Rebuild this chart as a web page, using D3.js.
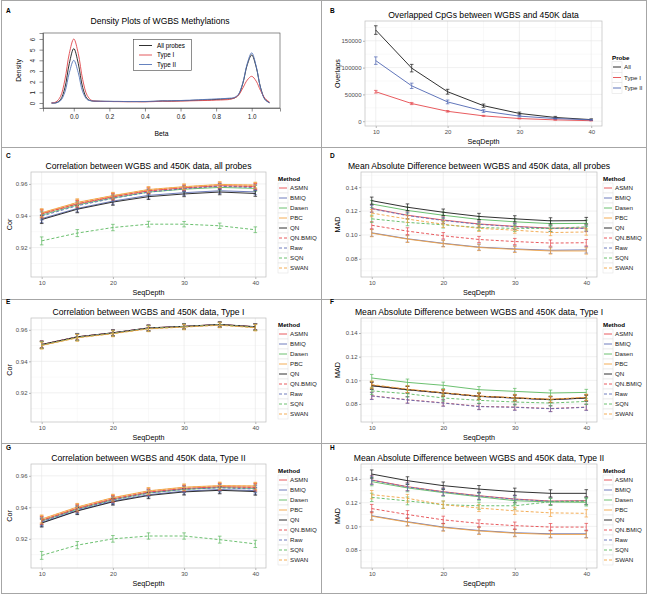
<!DOCTYPE html>
<html><head><meta charset="utf-8">
<script src="https://cdn.jsdelivr.net/npm/d3@7"></script>
<style>body{margin:0;background:#fff} svg{display:block}</style>
</head><body><svg id="fig" width="648" height="595"></svg>
<script>
// ---------------- DATA ----------------
// Panel A: density of WGBS methylation (beta)
const densityLabels = ["All probes", "Type I", "Type II"];
const betaGrid = [-0.125,-0.1,-0.075,-0.05,-0.025,0,0.025,0.05,0.075,0.1,
  0.125,0.15,0.175,0.2,0.225,0.25,0.275,0.3,0.325,0.35,
  0.375,0.4,0.425,0.45,0.475,0.5,0.525,0.55,0.575,0.6,
  0.625,0.65,0.675,0.7,0.725,0.75,0.775,0.8,0.825,0.85,
  0.875,0.9,0.925,0.95,0.975,1.0,1.025,1.05,1.075,1.1];
const densityAll = [0.0,0.02,0.3,1.42,3.72,5.1,3.72,1.45,0.4,0.2,
  0.17,0.16,0.15,0.15,0.14,0.14,0.14,0.13,0.13,0.13,
  0.13,0.13,0.14,0.15,0.17,0.19,0.18,0.19,0.2,0.21,
  0.22,0.23,0.25,0.26,0.28,0.29,0.31,0.33,0.35,0.37,
  0.40,0.45,0.74,1.83,3.58,4.5,3.38,1.43,0.34,0.03];
const densityType1 = [0.0,0.10,0.6,2.16,4.65,6.0,4.65,2.2,0.72,0.25,
  0.17,0.15,0.14,0.14,0.13,0.13,0.12,0.12,0.12,0.12,
  0.11,0.11,0.12,0.13,0.15,0.17,0.16,0.16,0.17,0.18,
  0.19,0.20,0.21,0.22,0.23,0.24,0.25,0.27,0.28,0.30,
  0.33,0.45,0.72,1.4,2.15,2.5,2.05,1.15,0.43,0.08];
const densityType2 = [0.0,0.01,0.2,1.02,2.85,4.0,2.85,1.05,0.32,0.2,
  0.17,0.16,0.16,0.15,0.15,0.15,0.14,0.14,0.14,0.14,
  0.14,0.14,0.15,0.16,0.18,0.2,0.2,0.21,0.22,0.23,
  0.25,0.26,0.28,0.3,0.32,0.34,0.36,0.38,0.4,0.42,
  0.45,0.5,0.8,1.88,3.7,4.7,3.46,1.39,0.30,0.02];
const betaTicks = [0, 0.2, 0.4, 0.6, 0.8, 1.0];
const densityTicks = [0, 1, 2, 3, 4, 5, 6];

// Shared x values (sequencing depth)
const depths = [10, 15, 20, 25, 30, 35, 40];
const depthTicks = [10, 20, 30, 40];
const depthMinor = [15, 25, 35];

// Panel B: overlapped CpGs
const probes = ["All", "Type I", "Type II"];
const overlapAll   = [170000, 99000, 55000, 29000, 14500, 7000, 3000];
const overlapType1 = [55000, 33000, 18500, 10000, 5000, 2500, 1000];
const overlapType2 = [113000, 66000, 36000, 19000, 9500, 5000, 2500];
const overlapErrAll   = [8000, 7000, 4500, 3000, 2500, 2000, 1500];
const overlapErrType1 = [2500, 2000, 1500, 1000, 800, 600, 400];
const overlapErrType2 = [7000, 5000, 3500, 2500, 1500, 1000, 800];
const overlapTicks = [0, 50000, 100000, 150000];

// Methods (order: ASMN, BMIQ, Dasen, PBC, QN, QN.BMIQ, Raw, SQN, SWAN)
const methods = ["ASMN","BMIQ","Dasen","PBC","QN","QN.BMIQ","Raw","SQN","SWAN"];

// Panel C: correlation, all probes
const corAll = [
  [0.9413,0.9476,0.9520,0.9558,0.9576,0.9589,0.9585],
  [0.9382,0.9446,0.9492,0.9528,0.9545,0.9557,0.9550],
  [0.9404,0.9468,0.9512,0.9549,0.9567,0.9578,0.9572],
  [0.9419,0.9484,0.9527,0.9565,0.9583,0.9597,0.9593],
  [0.9376,0.9441,0.9486,0.9520,0.9537,0.9549,0.9540],
  [0.9411,0.9474,0.9518,0.9556,0.9574,0.9587,0.9583],
  [0.9398,0.9463,0.9509,0.9548,0.9570,0.9585,0.9577],
  [0.9242,0.9291,0.9326,0.9347,0.9347,0.9337,0.9312],
  [0.9417,0.9482,0.9525,0.9563,0.9581,0.9595,0.9591]];
const corAllErr = [0.0025,0.0022,0.0020,0.0018,0.0017,0.0017,0.0018];

// Panel D: MAD, all probes
const madAll = [
  [0.1222,0.1165,0.1125,0.1092,0.1072,0.1057,0.1058],
  [0.1018,0.0968,0.0930,0.0898,0.0883,0.0872,0.0875],
  [0.1259,0.1205,0.1165,0.1130,0.1110,0.1095,0.1097],
  [0.1015,0.0965,0.0927,0.0895,0.0879,0.0866,0.0866],
  [0.1287,0.1232,0.1190,0.1155,0.1135,0.1118,0.1120],
  [0.1081,0.1032,0.0993,0.0962,0.0945,0.0932,0.0935],
  [0.1219,0.1162,0.1121,0.1089,0.1069,0.1054,0.1055],
  [0.1135,0.1105,0.1085,0.1062,0.1055,0.1055,0.1068],
  [0.1183,0.1133,0.1090,0.1055,0.1040,0.1020,0.1025]];
const madAllErr = [0.0030,0.0028,0.0027,0.0026,0.0026,0.0026,0.0027];

// Panel E: correlation, Type I
const corType1 = [
  [0.9506,0.9555,0.9581,0.9612,0.9622,0.9634,0.9619],
  [0.9505,0.9554,0.9580,0.9611,0.9621,0.9633,0.9618],
  [0.9504,0.9553,0.9579,0.9610,0.9620,0.9632,0.9617],
  [0.9502,0.9551,0.9577,0.9608,0.9619,0.9631,0.9615],
  [0.9507,0.9556,0.9581,0.9612,0.9622,0.9634,0.9620],
  [0.9506,0.9555,0.9580,0.9611,0.9621,0.9633,0.9619],
  [0.9505,0.9554,0.9580,0.9611,0.9621,0.9633,0.9618],
  [0.9503,0.9552,0.9578,0.9609,0.9620,0.9632,0.9616],
  [0.9500,0.9549,0.9575,0.9606,0.9617,0.9629,0.9613]];
const corType1Err = [0.0022,0.0021,0.0019,0.0018,0.0017,0.0016,0.0020];

// Panel F: MAD, Type I
const madType1 = [
  [0.0957,0.0922,0.0894,0.0866,0.0852,0.0838,0.0852],
  [0.0954,0.0920,0.0892,0.0864,0.0850,0.0836,0.0850],
  [0.1020,0.0983,0.0958,0.0921,0.0907,0.0893,0.0898],
  [0.0958,0.0923,0.0895,0.0867,0.0853,0.0840,0.0854],
  [0.0955,0.0921,0.0893,0.0865,0.0851,0.0837,0.0851],
  [0.0870,0.0836,0.0810,0.0780,0.0774,0.0762,0.0774],
  [0.0868,0.0834,0.0808,0.0778,0.0772,0.0760,0.0772],
  [0.0911,0.0887,0.0851,0.0831,0.0817,0.0808,0.0822],
  [0.0965,0.0925,0.0895,0.0866,0.0853,0.0840,0.0857]];
const madType1Err = [0.0030,0.0028,0.0027,0.0026,0.0025,0.0025,0.0026];

// Panel G: correlation, Type II
const corType2 = [
  [0.9318,0.9394,0.9454,0.9497,0.9520,0.9531,0.9528],
  [0.9303,0.9380,0.9439,0.9480,0.9503,0.9513,0.9506],
  [0.9312,0.9388,0.9448,0.9491,0.9514,0.9525,0.9520],
  [0.9326,0.9402,0.9462,0.9505,0.9528,0.9538,0.9536],
  [0.9300,0.9377,0.9435,0.9475,0.9498,0.9508,0.9500],
  [0.9316,0.9392,0.9452,0.9495,0.9518,0.9529,0.9526],
  [0.9308,0.9385,0.9445,0.9490,0.9514,0.9524,0.9516],
  [0.9095,0.9160,0.9200,0.9218,0.9218,0.9195,0.9168],
  [0.9324,0.9400,0.9460,0.9503,0.9526,0.9536,0.9534]];
const corType2Err = [0.0025,0.0023,0.0021,0.0020,0.0020,0.0022,0.0023];

// Panel H: MAD, Type II
const madType2 = [
  [0.1392,0.1335,0.1293,0.1259,0.1231,0.1214,0.1217],
  [0.1090,0.1039,0.0994,0.0965,0.0946,0.0937,0.0937],
  [0.1378,0.1325,0.1285,0.1250,0.1217,0.1206,0.1203],
  [0.1086,0.1035,0.0990,0.0961,0.0942,0.0932,0.0932],
  [0.1442,0.1386,0.1344,0.1315,0.1293,0.1279,0.1279],
  [0.1150,0.1100,0.1055,0.1025,0.1006,0.0994,0.0994],
  [0.1390,0.1333,0.1291,0.1257,0.1229,0.1212,0.1215],
  [0.1245,0.1215,0.1183,0.1174,0.1174,0.1208,0.1212],
  [0.1268,0.1237,0.1183,0.1155,0.1131,0.1114,0.1110]];
const madType2Err = [0.0035,0.0033,0.0031,0.0030,0.0030,0.0030,0.0031];

const corTicks = [0.92, 0.94, 0.96];
const corMinor = [0.91, 0.93, 0.95];
const madTicks = [0.08, 0.10, 0.12, 0.14];
const madMinor = [0.07, 0.09, 0.11, 0.13, 0.15];
const overlapMinor = [25000, 75000, 125000, 175000];

// ---------------- STYLES ----------------
const FONT = '"Liberation Sans", Arial, Helvetica, sans-serif';
const methodColors = ["#e5484d","#5f6db5","#5bb960","#f2a444","#1a1a1a","#e5484d","#5f6db5","#5bb960","#f2a444"];
const methodDash = [null,null,null,null,null,"3,2","3,2","3,2","3,2"];
const probeColors = ["#1a1a1a","#e5484d","#4f66b3"];
const densityColors = ["#1a1a1a","#e0474c","#5374b8"];

const svg = d3.select("#fig").attr("font-family", FONT);
svg.append("rect").attr("width",648).attr("height",595).attr("fill","#fff");

// ---------------- HELPERS ----------------
function styleAxis(sel, size) {
  sel.select(".domain").remove();
  sel.selectAll(".tick line").attr("stroke","#7f7f7f").attr("stroke-width",0.6);
  sel.selectAll(".tick text").attr("fill","#4d4d4d").attr("font-size", size || 6).attr("font-family", FONT);
}

function ggFrame(p) {
  const xs = d3.scaleLinear().domain([8.5, 41.5]).range([p.x0, p.x1]);
  const ys = d3.scaleLinear().domain(p.yDomain).range([p.y1, p.y0]);
  const g = svg.append("g");
  g.append("rect").attr("x",p.x0).attr("y",p.y0).attr("width",p.x1-p.x0).attr("height",p.y1-p.y0).attr("fill","#fff");
  p.yMinor.filter(v => v > p.yDomain[0] && v < p.yDomain[1]).forEach(v =>
    g.append("line").attr("x1",p.x0).attr("x2",p.x1).attr("y1",ys(v)).attr("y2",ys(v)).attr("stroke","#f3f3f3").attr("stroke-width",0.5));
  depthMinor.forEach(v =>
    g.append("line").attr("y1",p.y0).attr("y2",p.y1).attr("x1",xs(v)).attr("x2",xs(v)).attr("stroke","#f3f3f3").attr("stroke-width",0.5));
  p.yTicks.forEach(v =>
    g.append("line").attr("x1",p.x0).attr("x2",p.x1).attr("y1",ys(v)).attr("y2",ys(v)).attr("stroke","#e6e6e6").attr("stroke-width",0.6));
  depthTicks.forEach(v =>
    g.append("line").attr("y1",p.y0).attr("y2",p.y1).attr("x1",xs(v)).attr("x2",xs(v)).attr("stroke","#e6e6e6").attr("stroke-width",0.6));
  g.append("g").attr("transform",`translate(0,${p.y1})`)
    .call(d3.axisBottom(xs).tickValues(depthTicks).tickSize(2).tickPadding(1.5).tickFormat(d3.format("d")))
    .call(s => styleAxis(s));
  g.append("g").attr("transform",`translate(${p.x0},0)`)
    .call(d3.axisLeft(ys).tickValues(p.yTicks).tickSize(2).tickPadding(1.5).tickFormat(p.yFormat))
    .call(s => styleAxis(s));
  g.append("text").attr("x",(p.x0+p.x1)/2 + (p.titleDx||0)).attr("y",p.y0-3).attr("text-anchor","middle")
    .attr("font-size",8.6).attr("fill","#000").text(p.title);
  g.append("text").attr("x",(p.x0+p.x1)/2).attr("y",p.y1+17.5).attr("text-anchor","middle")
    .attr("font-size",7.2).attr("fill","#000").text("SeqDepth");
  g.append("text").attr("transform",`translate(${p.ylabX},${(p.y0+p.y1)/2}) rotate(-90)`).attr("text-anchor","middle")
    .attr("font-size",7.2).attr("fill","#000").text(p.ylab);
  return {g, xs, ys, border: () => g.append("rect").attr("x",p.x0).attr("y",p.y0).attr("width",p.x1-p.x0).attr("height",p.y1-p.y0)
    .attr("fill","none").attr("stroke","#bdbdbd").attr("stroke-width",0.7)};
}

function drawSeries(f, values, errs, color, dash) {
  const line = d3.line().x((d,i) => f.xs(depths[i])).y(d => f.ys(d));
  const eg = f.g.append("g").attr("stroke",color).attr("stroke-width",0.7);
  values.forEach((v,i) => {
    const x = f.xs(depths[i]);
    eg.append("line").attr("x1",x).attr("x2",x).attr("y1",f.ys(v-errs[i])).attr("y2",f.ys(v+errs[i]));
    eg.append("line").attr("x1",x-1.8).attr("x2",x+1.8).attr("y1",f.ys(v-errs[i])).attr("y2",f.ys(v-errs[i]));
    eg.append("line").attr("x1",x-1.8).attr("x2",x+1.8).attr("y1",f.ys(v+errs[i])).attr("y2",f.ys(v+errs[i]));
  });
  f.g.append("path").attr("d",line(values)).attr("fill","none").attr("stroke",color)
    .attr("stroke-width",0.9).attr("stroke-dasharray",dash);
}

function legend(x, yTitle, title, labels, colors, dashes, step) {
  const g = svg.append("g");
  g.append("text").attr("x",x).attr("y",yTitle+2.2).attr("font-size",6.2).attr("font-weight","bold").text(title);
  labels.forEach((lab,i) => {
    const cy = yTitle + 9 + i*step;
    g.append("rect").attr("x",x).attr("y",cy-step/2).attr("width",10).attr("height",step)
      .attr("fill","#fff").attr("stroke","#dedede").attr("stroke-width",0.5);
    g.append("line").attr("x1",x+1).attr("x2",x+9).attr("y1",cy).attr("y2",cy)
      .attr("stroke",colors[i]).attr("stroke-width",0.9).attr("stroke-dasharray",dashes ? dashes[i] : null);
    g.append("text").attr("x",x+12).attr("y",cy+2.2).attr("font-size",6.2).attr("fill","#1a1a1a").text(lab);
  });
}

function panelLabel(x, y, t) {
  svg.append("text").attr("x",x).attr("y",y).attr("font-size",6.5).attr("font-weight","bold").text(t);
}

// ---------------- FRAME ----------------
const frame = svg.append("g").attr("stroke","#a6a6a6").attr("stroke-width",1).attr("fill","none");
frame.append("rect").attr("x",1.5).attr("y",0.5).attr("width",645).attr("height",593);
[147.5, 299.5, 443.5].forEach(y => frame.append("line").attr("x1",1.5).attr("x2",646.5).attr("y1",y).attr("y2",y));
frame.append("line").attr("x1",321.5).attr("x2",321.5).attr("y1",0.5).attr("y2",593.5);

// ---------------- PANEL A ----------------
{
  const x0 = 43, x1 = 280, y0 = 33, y1 = 108;
  const ax = d3.scaleLinear().domain([-0.173, 1.159]).range([x0, x1]);
  const ay = d3.scaleLinear().domain([-0.47, 6.56]).range([y1, y0]);
  const g = svg.append("g");
  const line = d3.line().x((d,i) => ax(betaGrid[i])).y(d => ay(d)).curve(d3.curveCatmullRom.alpha(0.5));
  [densityAll, densityType1, densityType2].forEach((s,k) =>
    g.append("path").attr("d", line(s)).attr("fill","none").attr("stroke",densityColors[k]).attr("stroke-width",0.9));
  g.append("rect").attr("x",x0).attr("y",y0).attr("width",x1-x0).attr("height",y1-y0)
    .attr("fill","none").attr("stroke","#444").attr("stroke-width",0.6);
  const xa = g.append("g").attr("transform",`translate(0,${y1})`)
    .call(d3.axisBottom(ax).tickValues(betaTicks).tickSize(3.5).tickPadding(3).tickFormat(d3.format(".1f")));
  xa.select(".domain").attr("stroke","#444").attr("stroke-width",0.6);
  xa.selectAll(".tick line").attr("stroke","#444").attr("stroke-width",0.6);
  xa.selectAll(".tick text").attr("font-size",6.3).attr("fill","#222").attr("font-family",FONT);
  const ya = g.append("g").attr("transform",`translate(${x0},0)`)
    .call(d3.axisLeft(ay).tickValues(densityTicks).tickSize(3.5).tickFormat(d3.format("d")));
  ya.select(".domain").attr("stroke","#444").attr("stroke-width",0.6);
  ya.selectAll(".tick line").attr("stroke","#444").attr("stroke-width",0.6);
  ya.selectAll(".tick text").attr("x",0).attr("dy",null).attr("text-anchor","middle")
    .attr("transform","translate(-7.6,0) rotate(-90)").attr("font-size",6.3).attr("fill","#222").attr("font-family",FONT);
  g.append("text").attr("x",160).attr("y",24).attr("text-anchor","middle").attr("font-size",8.6).text("Density Plots of WGBS Methylations");
  g.append("text").attr("x",(x0+x1)/2).attr("y",136).attr("text-anchor","middle").attr("font-size",6.8).text("Beta");
  g.append("text").attr("transform",`translate(21,${(y0+y1)/2}) rotate(-90)`).attr("text-anchor","middle").attr("font-size",6.8).text("Density");
  const lg = g.append("g");
  lg.append("rect").attr("x",133.5).attr("y",39.5).attr("width",58).attr("height",31).attr("fill","#fff").attr("stroke","#444").attr("stroke-width",0.6);
  densityLabels.forEach((lab,i) => {
    const cy = 45.5 + i*9.5;
    lg.append("line").attr("x1",139).attr("x2",152).attr("y1",cy).attr("y2",cy).attr("stroke",densityColors[i]).attr("stroke-width",0.9);
    lg.append("text").attr("x",157).attr("y",cy+2.2).attr("font-size",6.3).text(lab);
  });
}
panelLabel(6, 13, "A");

// ---------------- PANEL B ----------------
{
  const f = ggFrame({x0:365, x1:602, y0:21, y1:126, yDomain:[-8900,186900], yTicks:overlapTicks, yMinor:overlapMinor,
    yFormat:d3.format("d"), title:"Overlapped CpGs between WGBS and 450K data", ylab:"Overlaps", ylabX:340});
  const ser = [overlapAll, overlapType1, overlapType2];
  const errs = [overlapErrAll, overlapErrType1, overlapErrType2];
  ser.forEach((s,k) => drawSeries(f, s, errs[k], probeColors[k], null));
  f.border();
  legend(612, 58, "Probe", probes, probeColors, null, 10.5);
}
panelLabel(330, 13, "B");

// ---------------- METHOD PANELS ----------------
const rows = [{y0:172, y1:277}, {y0:318, y1:422}, {y0:464, y1:568}];
const leftX = {x0:31, x1:266, ylabX:12, legendX:278};
const rightX = {x0:361, x1:597, ylabX:340, legendX:603};
const corDomain = [0.9015, 0.9675];
const madDomain = [0.0648, 0.1527];

function methodPanel(row, col, dataRows, errs, isCor, title, label) {
  const f = ggFrame({x0:col.x0, x1:col.x1, y0:row.y0, y1:row.y1,
    yDomain: isCor ? corDomain : madDomain, yTicks: isCor ? corTicks : madTicks, yMinor: isCor ? corMinor : madMinor,
    yFormat: d3.format(".2f"), title, ylab: isCor ? "Cor" : "MAD", ylabX: col.ylabX});
  dataRows.forEach((s,k) => drawSeries(f, s, errs, methodColors[k], methodDash[k]));
  f.border();
  legend(col.legendX, row.y0 + 7, "Method", methods, methodColors, methodDash, 10);
  panelLabel(col === leftX ? 6 : 330, row.y0 - 14, label);
}

methodPanel(rows[0], leftX, corAll, corAllErr, true, "Correlation between WGBS and 450K data, all probes", "C");
methodPanel(rows[0], rightX, madAll, madAllErr, false, "Mean Absolute Difference between WGBS and 450K data, all probes", "D");
methodPanel(rows[1], leftX, corType1, corType1Err, true, "Correlation between WGBS and 450K data, Type I", "E");
methodPanel(rows[1], rightX, madType1, madType1Err, false, "Mean Absolute Difference between WGBS and 450K data, Type I", "F");
methodPanel(rows[2], leftX, corType2, corType2Err, true, "Correlation between WGBS and 450K data, Type II", "G");
methodPanel(rows[2], rightX, madType2, madType2Err, false, "Mean Absolute Difference between WGBS and 450K data, Type II", "H");
</script>
</body></html>
